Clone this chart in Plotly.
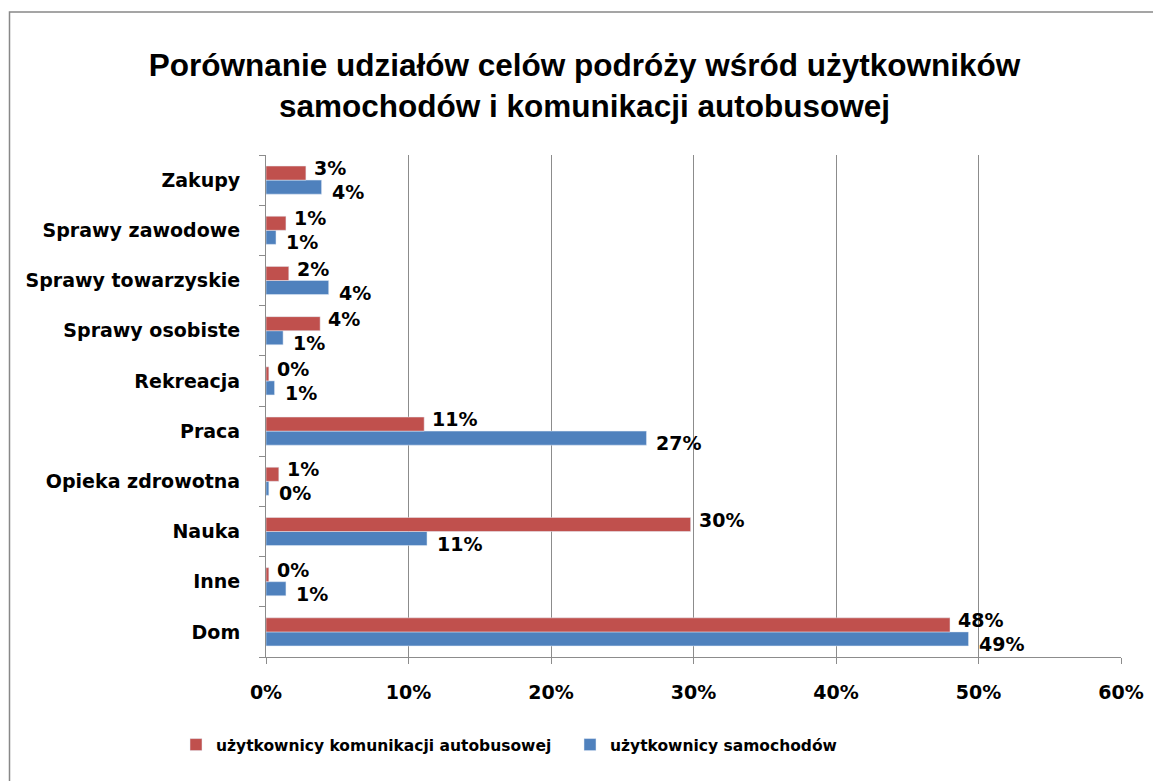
import plotly.graph_objects as go

categories = ["Dom", "Inne", "Nauka", "Opieka zdrowotna", "Praca", "Rekreacja",
              "Sprawy osobiste", "Sprawy towarzyskie", "Sprawy zawodowe", "Zakupy"]
bus_share = [0.480, 0.002, 0.298, 0.009, 0.111, 0.002, 0.038, 0.016, 0.014, 0.028]
car_share = [0.493, 0.014, 0.113, 0.002, 0.267, 0.006, 0.012, 0.044, 0.007, 0.039]
series_names = ["użytkownicy komunikacji autobusowej", "użytkownicy samochodów"]
title_text = "Porównanie udziałów celów podróży wśród użytkowników<br>samochodów i komunikacji autobusowej"
x_ticks = [0, 0.1, 0.2, 0.3, 0.4, 0.5, 0.6]

RED = "#C0504D"
BLUE = "#4F81BD"
GRID = "#8C8C8C"
FONT = "DejaVu Sans"

OFF = 8  # page body margin offset
W, H = 1161 - OFF, 781 - OFF
L = 266 - OFF
R = W - (1121 - OFF)
T = 155 - OFF
B = H - (657 - OFF)
pw, ph = W - L - R, H - T - B

def px_x(p):
    return (p - OFF - L) / pw

def px_y(p):
    return (H - B - (p - OFF)) / ph

label_font = dict(family=FONT, size=19, color="black", weight="bold")

fig = go.Figure()
fig.add_trace(go.Bar(
    y=categories, x=car_share, orientation="h", name=series_names[1],
    marker=dict(color=BLUE), cliponaxis=False, legend="legend2",
))
fig.add_trace(go.Bar(
    y=categories, x=bus_share, orientation="h", name=series_names[0],
    marker=dict(color=RED), cliponaxis=False, legend="legend",
))

# data labels (outside end), red above the blue one
annotations = []
for cat, v in zip(categories, bus_share):
    annotations.append(dict(x=v, y=cat, xref="x", yref="y", text=f"{v:.0%}",
                            showarrow=False, xanchor="left", yanchor="middle",
                            xshift=6, yshift=12, font=label_font))
for cat, v in zip(categories, car_share):
    annotations.append(dict(x=v, y=cat, xref="x", yref="y", text=f"{v:.0%}",
                            showarrow=False, xanchor="left", yanchor="middle",
                            xshift=8, yshift=-12, font=label_font))

fig.update_layout(
    width=W, height=H,
    margin=dict(l=L, r=R, t=T, b=B),
    paper_bgcolor="white", plot_bgcolor="white",
    barmode="group", bargap=0.44, bargroupgap=0,
    title=dict(text=title_text, x=0.5, xanchor="center", y=1 - (88 - OFF - 12) / H, yanchor="middle",
               font=dict(family="Liberation Sans", size=31.5, color="black", weight="bold")),
    font=dict(family=FONT, size=19, color="black"),
    showlegend=True,
    legend=dict(x=px_x(176), y=px_y(745), xanchor="left", yanchor="middle",
                orientation="h", bgcolor="rgba(0,0,0,0)",
                font=dict(family=FONT, size=15.5, color="black", weight="bold")),
    legend2=dict(x=px_x(570), y=px_y(745), xanchor="left", yanchor="middle",
                 orientation="h", bgcolor="rgba(0,0,0,0)",
                 font=dict(family=FONT, size=15.5, color="black", weight="bold")),
    xaxis=dict(range=[0, 0.6], tickvals=x_ticks, tickformat=".0%",
               showgrid=True, gridcolor=GRID, gridwidth=1,
               showline=True, linecolor=GRID, linewidth=1,
               ticks="outside", ticklen=6, tickcolor=GRID,
               ticklabelstandoff=12, zeroline=False,
               tickfont=dict(family=FONT, size=19, color="black", weight="bold")),
    yaxis=dict(categoryorder="array", categoryarray=categories, range=[-0.5, 9.5],
               showline=True, linecolor=GRID, linewidth=1,
               ticks="outside", ticklen=6, tickcolor=GRID, tickson="boundaries",
               ticklabelstandoff=21, showgrid=False,
               tickfont=dict(family=FONT, size=19, color="black", weight="bold")),
    annotations=annotations,
    shapes=[dict(type="rect", xref="paper", yref="paper",
                 x0=px_x(9.5), x1=px_x(1175), y0=px_y(795), y1=px_y(12),
                 line=dict(color="#888888", width=1.5), fillcolor="rgba(0,0,0,0)", layer="below")],
)

fig.write_html("out.html")
